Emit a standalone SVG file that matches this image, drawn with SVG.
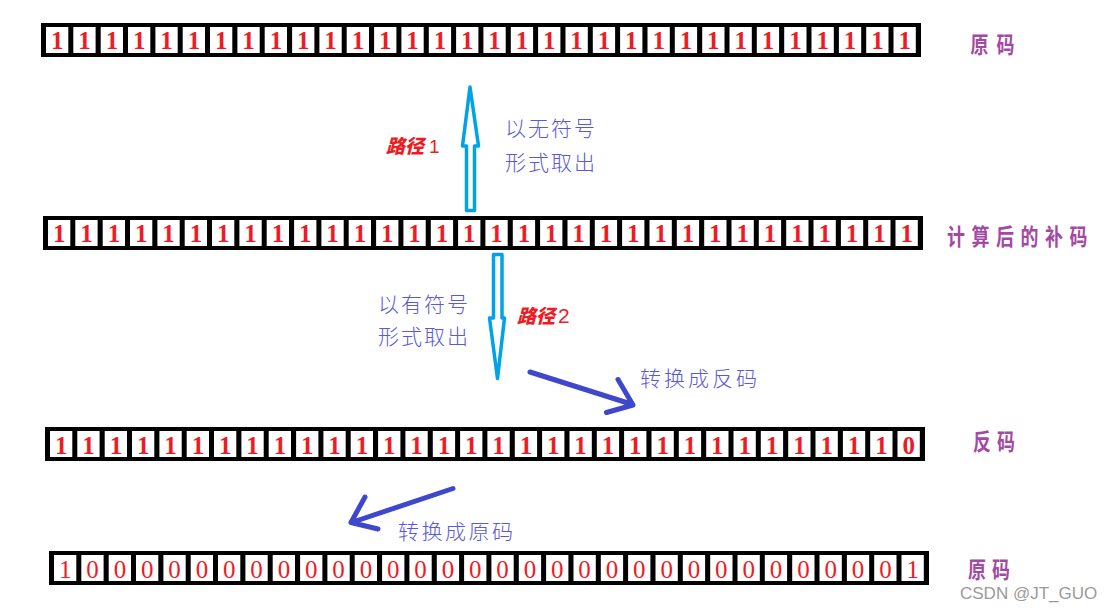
<svg xmlns="http://www.w3.org/2000/svg" xmlns:xlink="http://www.w3.org/1999/xlink" width="1112" height="612" viewBox="0 0 1112 612">
<style>
.bar{fill:#000}
.cell{fill:#fff}
.d{font-family:"Liberation Serif",serif;font-size:25px;font-weight:bold;fill:#ed1c24;text-anchor:middle}
.dn{font-weight:normal}
.lbl{font-family:"Noto Sans CJK SC",sans-serif;font-weight:bold;font-size:23px;fill:#a349a4}
.note{font-family:"Noto Sans CJK SC",sans-serif;font-weight:300;font-size:21px;fill:#5a5ad6}
.path{font-family:"Noto Sans CJK SC",sans-serif;font-weight:900;font-style:italic;font-size:19px;fill:#ed1c24}
.num{font-family:"Liberation Sans",sans-serif;font-weight:normal;font-style:normal}
.hollow{fill:#fff;stroke:#00a2e8;stroke-width:3.5;stroke-linejoin:round}
.stroke{fill:none;stroke:#3f48cc;stroke-width:5;stroke-linecap:round;stroke-linejoin:round}
.wm{font-family:"Liberation Sans",sans-serif;font-size:17px;fill:#9a9a9a}
</style>
<defs>
<g id="cells">
<rect class="cell" x="5" y="4" width="22.3" height="26"/><rect class="cell" x="32.3" y="4" width="22.3" height="26"/><rect class="cell" x="59.7" y="4" width="22.3" height="26"/><rect class="cell" x="87" y="4" width="22.3" height="26"/>
<rect class="cell" x="114.4" y="4" width="22.3" height="26"/><rect class="cell" x="141.7" y="4" width="22.3" height="26"/><rect class="cell" x="169" y="4" width="22.3" height="26"/><rect class="cell" x="196.4" y="4" width="22.3" height="26"/>
<rect class="cell" x="223.7" y="4" width="22.3" height="26"/><rect class="cell" x="251.1" y="4" width="22.3" height="26"/><rect class="cell" x="278.4" y="4" width="22.3" height="26"/><rect class="cell" x="305.7" y="4" width="22.3" height="26"/>
<rect class="cell" x="333.1" y="4" width="22.3" height="26"/><rect class="cell" x="360.4" y="4" width="22.3" height="26"/><rect class="cell" x="387.8" y="4" width="22.3" height="26"/><rect class="cell" x="415.1" y="4" width="22.3" height="26"/>
<rect class="cell" x="442.4" y="4" width="22.3" height="26"/><rect class="cell" x="469.8" y="4" width="22.3" height="26"/><rect class="cell" x="497.1" y="4" width="22.3" height="26"/><rect class="cell" x="524.5" y="4" width="22.3" height="26"/>
<rect class="cell" x="551.8" y="4" width="22.3" height="26"/><rect class="cell" x="579.1" y="4" width="22.3" height="26"/><rect class="cell" x="606.5" y="4" width="22.3" height="26"/><rect class="cell" x="633.8" y="4" width="22.3" height="26"/>
<rect class="cell" x="661.2" y="4" width="22.3" height="26"/><rect class="cell" x="688.5" y="4" width="22.3" height="26"/><rect class="cell" x="715.8" y="4" width="22.3" height="26"/><rect class="cell" x="743.2" y="4" width="22.3" height="26"/>
<rect class="cell" x="770.5" y="4" width="22.3" height="26"/><rect class="cell" x="797.9" y="4" width="22.3" height="26"/><rect class="cell" x="825.2" y="4" width="22.3" height="26"/><rect class="cell" x="852.5" y="4" width="22.3" height="26"/>
</g>
</defs>
<rect width="1112" height="612" fill="#fff"/>

<g id="row-original-top" transform="translate(41,23)">
<rect class="bar" width="880" height="34"/><use xlink:href="#cells"/>
<text class="d" x="16.2" y="26">1</text><text class="d" x="43.5" y="26">1</text><text class="d" x="70.9" y="26">1</text><text class="d" x="98.2" y="26">1</text>
<text class="d" x="125.5" y="26">1</text><text class="d" x="152.9" y="26">1</text><text class="d" x="180.2" y="26">1</text><text class="d" x="207.6" y="26">1</text>
<text class="d" x="234.9" y="26">1</text><text class="d" x="262.2" y="26">1</text><text class="d" x="289.6" y="26">1</text><text class="d" x="316.9" y="26">1</text>
<text class="d" x="344.3" y="26">1</text><text class="d" x="371.6" y="26">1</text><text class="d" x="398.9" y="26">1</text><text class="d" x="426.3" y="26">1</text>
<text class="d" x="453.6" y="26">1</text><text class="d" x="481" y="26">1</text><text class="d" x="508.3" y="26">1</text><text class="d" x="535.6" y="26">1</text>
<text class="d" x="563" y="26">1</text><text class="d" x="590.3" y="26">1</text><text class="d" x="617.7" y="26">1</text><text class="d" x="645" y="26">1</text>
<text class="d" x="672.3" y="26">1</text><text class="d" x="699.7" y="26">1</text><text class="d" x="727" y="26">1</text><text class="d" x="754.4" y="26">1</text>
<text class="d" x="781.7" y="26">1</text><text class="d" x="809" y="26">1</text><text class="d" x="836.4" y="26">1</text><text class="d" x="863.7" y="26">1</text>
</g>
<g id="label-original-top"><text class="lbl" transform="translate(970.5,52.7) scale(0.78,1)" letter-spacing="10.3">原码</text></g>

<g id="row-complement" transform="translate(43,216)">
<rect class="bar" width="880" height="34"/><use xlink:href="#cells"/>
<text class="d" x="16.2" y="26">1</text><text class="d" x="43.5" y="26">1</text><text class="d" x="70.9" y="26">1</text><text class="d" x="98.2" y="26">1</text>
<text class="d" x="125.5" y="26">1</text><text class="d" x="152.9" y="26">1</text><text class="d" x="180.2" y="26">1</text><text class="d" x="207.6" y="26">1</text>
<text class="d" x="234.9" y="26">1</text><text class="d" x="262.2" y="26">1</text><text class="d" x="289.6" y="26">1</text><text class="d" x="316.9" y="26">1</text>
<text class="d" x="344.3" y="26">1</text><text class="d" x="371.6" y="26">1</text><text class="d" x="398.9" y="26">1</text><text class="d" x="426.3" y="26">1</text>
<text class="d" x="453.6" y="26">1</text><text class="d" x="481" y="26">1</text><text class="d" x="508.3" y="26">1</text><text class="d" x="535.6" y="26">1</text>
<text class="d" x="563" y="26">1</text><text class="d" x="590.3" y="26">1</text><text class="d" x="617.7" y="26">1</text><text class="d" x="645" y="26">1</text>
<text class="d" x="672.3" y="26">1</text><text class="d" x="699.7" y="26">1</text><text class="d" x="727" y="26">1</text><text class="d" x="754.4" y="26">1</text>
<text class="d" x="781.7" y="26">1</text><text class="d" x="809" y="26">1</text><text class="d" x="836.4" y="26">1</text><text class="d" x="863.7" y="26">1</text>
</g>
<g id="label-complement"><text class="lbl" transform="translate(947,244.7) scale(0.78,1)" letter-spacing="8.4">计算后的补码</text></g>

<g id="row-ones-complement" transform="translate(45,427)">
<rect class="bar" width="880" height="34"/><use xlink:href="#cells"/>
<text class="d" x="16.2" y="26.5">1</text><text class="d" x="43.5" y="26.5">1</text><text class="d" x="70.9" y="26.5">1</text><text class="d" x="98.2" y="26.5">1</text>
<text class="d" x="125.5" y="26.5">1</text><text class="d" x="152.9" y="26.5">1</text><text class="d" x="180.2" y="26.5">1</text><text class="d" x="207.6" y="26.5">1</text>
<text class="d" x="234.9" y="26.5">1</text><text class="d" x="262.2" y="26.5">1</text><text class="d" x="289.6" y="26.5">1</text><text class="d" x="316.9" y="26.5">1</text>
<text class="d" x="344.3" y="26.5">1</text><text class="d" x="371.6" y="26.5">1</text><text class="d" x="398.9" y="26.5">1</text><text class="d" x="426.3" y="26.5">1</text>
<text class="d" x="453.6" y="26.5">1</text><text class="d" x="481" y="26.5">1</text><text class="d" x="508.3" y="26.5">1</text><text class="d" x="535.6" y="26.5">1</text>
<text class="d" x="563" y="26.5">1</text><text class="d" x="590.3" y="26.5">1</text><text class="d" x="617.7" y="26.5">1</text><text class="d" x="645" y="26.5">1</text>
<text class="d" x="672.3" y="26.5">1</text><text class="d" x="699.7" y="26.5">1</text><text class="d" x="727" y="26.5">1</text><text class="d" x="754.4" y="26.5">1</text>
<text class="d" x="781.7" y="26.5">1</text><text class="d" x="809" y="26.5">1</text><text class="d" x="836.4" y="26.5">1</text><text class="d" x="863.7" y="26.5">0</text>
</g>
<g id="label-ones-complement"><text class="lbl" transform="translate(973,449.7) scale(0.78,1)" letter-spacing="7.8">反码</text></g>

<g id="row-original-bottom" transform="translate(49,551)">
<rect class="bar" width="880" height="34"/><use xlink:href="#cells"/>
<text class="d dn" x="16.2" y="27">1</text><text class="d dn" x="43.5" y="27">0</text><text class="d dn" x="70.9" y="27">0</text><text class="d dn" x="98.2" y="27">0</text>
<text class="d dn" x="125.5" y="27">0</text><text class="d dn" x="152.9" y="27">0</text><text class="d dn" x="180.2" y="27">0</text><text class="d dn" x="207.6" y="27">0</text>
<text class="d dn" x="234.9" y="27">0</text><text class="d dn" x="262.2" y="27">0</text><text class="d dn" x="289.6" y="27">0</text><text class="d dn" x="316.9" y="27">0</text>
<text class="d dn" x="344.3" y="27">0</text><text class="d dn" x="371.6" y="27">0</text><text class="d dn" x="398.9" y="27">0</text><text class="d dn" x="426.3" y="27">0</text>
<text class="d dn" x="453.6" y="27">0</text><text class="d dn" x="481" y="27">0</text><text class="d dn" x="508.3" y="27">0</text><text class="d dn" x="535.6" y="27">0</text>
<text class="d dn" x="563" y="27">0</text><text class="d dn" x="590.3" y="27">0</text><text class="d dn" x="617.7" y="27">0</text><text class="d dn" x="645" y="27">0</text>
<text class="d dn" x="672.3" y="27">0</text><text class="d dn" x="699.7" y="27">0</text><text class="d dn" x="727" y="27">0</text><text class="d dn" x="754.4" y="27">0</text>
<text class="d dn" x="781.7" y="27">0</text><text class="d dn" x="809" y="27">0</text><text class="d dn" x="836.4" y="27">0</text><text class="d dn" x="863.7" y="27">1</text>
</g>
<g id="label-original-bottom"><text class="lbl" transform="translate(968,577.7) scale(0.78,1)" letter-spacing="7.8">原码</text></g>

<g id="connectors">
<path class="hollow" d="M470,87 L478.5,146 L474.5,146 L474.5,210.5 L466.5,210.5 L466.5,146 L462.5,146 Z"/>
<path class="hollow" d="M493.5,254.5 L502,254.5 L502,318 L504.5,318 L497.5,378.5 L489.5,318 L493.5,318 Z"/>
<path class="stroke" d="M530,372 L631,404 M618,379.5 L633,405 L606.5,412.5"/>
<path class="stroke" d="M453,488.5 L353,522 M365,497 L351,522.5 L378,529"/>
</g>

<g id="notes">
<text class="path" x="386" y="152.5">路径<tspan class="num" dx="5">1</tspan></text>
<text class="note" x="505" y="136" letter-spacing="2">以无符号</text>
<text class="note" x="505" y="169.5" letter-spacing="2">形式取出</text>
<text class="note" x="378" y="312" letter-spacing="2">以有符号</text>
<text class="note" x="378" y="344" letter-spacing="2">形式取出</text>
<text class="path" x="517" y="322.5">路径<tspan class="num" dx="3" font-size="21">2</tspan></text>
<text class="note" x="640" y="386" letter-spacing="3">转换成反码</text>
<text class="note" x="398" y="539" letter-spacing="2.5">转换成原码</text>
</g>

<text class="wm" x="960" y="598.5">CSDN @JT_GUO</text>
</svg>
